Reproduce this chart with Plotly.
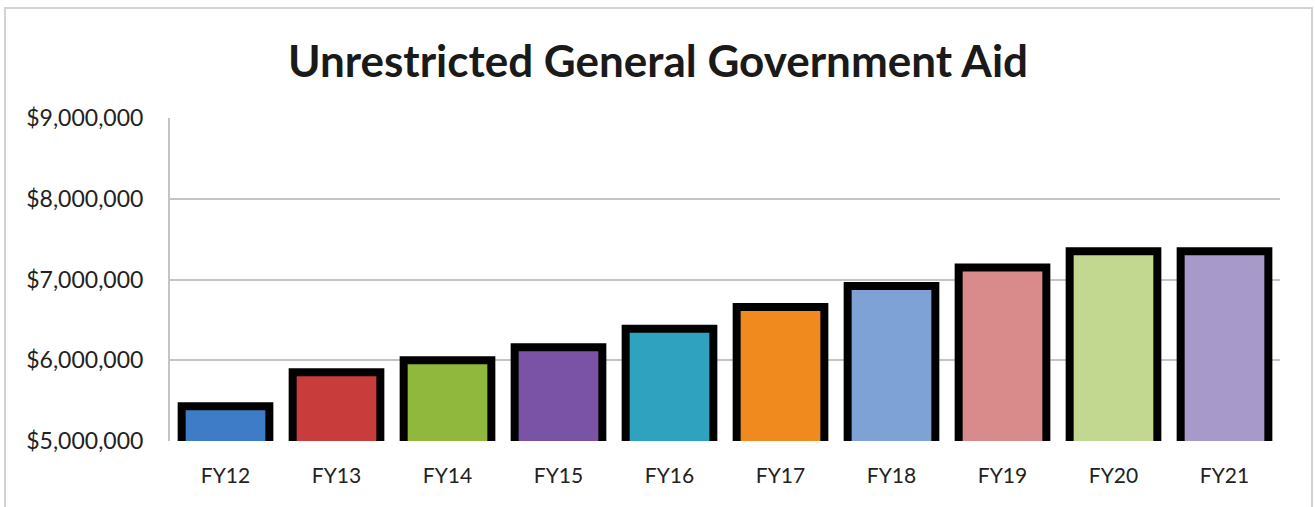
import plotly.graph_objects as go

# Fiscal-year aid amounts
years = ["FY12", "FY13", "FY14", "FY15", "FY16", "FY17", "FY18", "FY19", "FY20", "FY21"]
aid = [5430000, 5850000, 6000000, 6160000, 6390000, 6660000, 6920000, 7150000, 7350000, 7350000]
bar_colors = ["#3f7cc8", "#c83c3c", "#8fb83c", "#7a52a6", "#2fa2bf",
              "#f0891e", "#7ea2d6", "#d98b8b", "#c2d891", "#a899cb"]
tick_vals = [5000000, 6000000, 7000000, 8000000, 9000000]
tick_text = ["$5,000,000", "$6,000,000", "$7,000,000", "$8,000,000", "$9,000,000"]

fig = go.Figure()
fig.add_trace(go.Bar(
    x=years,
    y=aid,
    base=0,
    marker=dict(color=bar_colors, line=dict(color="#000000", width=8)),
    hoverinfo="x+y",
))

L, R, T, B = 170, 35, 118, 66
W, H = 1315, 507
pw, ph = W - L - R, H - T - B

fig.update_layout(
    width=W, height=H,
    margin=dict(l=L, r=R, t=T, b=B),
    paper_bgcolor="white",
    plot_bgcolor="white",
    bargap=0.21,
    showlegend=False,
    title=dict(
        text="<b>Unrestricted General Government Aid</b>",
        x=658 / W, xref="container", xanchor="center",
        y=1 - 62 / H, yanchor="middle",
        font=dict(family="Lato", size=44, color="#1a1a1a"),
    ),
    xaxis=dict(
        showgrid=False,
        showline=False,
        ticks="",
        ticklabelstandoff=20,
        tickfont=dict(family="Lato", size=21, color="#222222"),
    ),
    yaxis=dict(
        range=[5000000, 9000000],
        tickvals=tick_vals,
        ticktext=tick_text,
        showgrid=True,
        gridcolor="#c4c4c4",
        gridwidth=2,
        showline=True,
        linecolor="#c4c4c4",
        linewidth=2,
        ticks="",
        ticklabelstandoff=20,
        tickfont=dict(family="Lato", size=23, color="#222222"),
        zeroline=False,
    ),
    shapes=[dict(
        type="rect", xref="paper", yref="paper", layer="below",
        x0=(5 - L) / pw, x1=(1312 - L) / pw,
        y0=-0.5, y1=(H - B - 8) / ph,
        line=dict(color="#d2d2d2", width=2),
        fillcolor="rgba(0,0,0,0)",
    )],
)

fig.write_html("out.html")
